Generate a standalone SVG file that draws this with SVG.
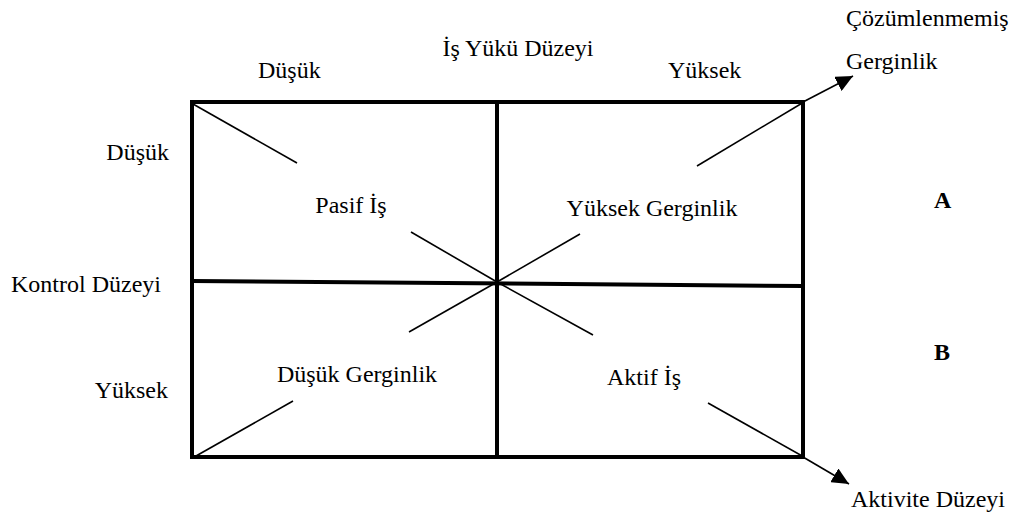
<svg xmlns="http://www.w3.org/2000/svg" width="1021" height="518" viewBox="0 0 1021 518" font-family="Liberation Serif, serif">
<defs>
<marker id="ah" markerUnits="userSpaceOnUse" markerWidth="18" markerHeight="16" refX="17" refY="8" orient="auto">
<path d="M0,0 L17,8 L0,16 Z" fill="#000"/>
</marker>
</defs>
<rect width="1021" height="518" fill="#fff"/>
<g id="grid" fill="none" stroke="#000" stroke-width="4">
<rect x="192" y="102" width="611" height="355"/>
<line x1="497" y1="102" x2="497" y2="457"/>
<line x1="192" y1="281" x2="803" y2="286"/>
</g>
<g id="connectors" stroke="#000" stroke-width="1.6" fill="none">
<line x1="193" y1="104" x2="297" y2="163"/>
<line x1="411" y1="232" x2="497" y2="282"/>
<line x1="497" y1="282" x2="580" y2="234"/>
<line x1="697" y1="166" x2="804" y2="102"/>
<line x1="803" y1="102" x2="853" y2="76" marker-end="url(#ah)"/>
<line x1="497" y1="282" x2="409" y2="332"/>
<line x1="293" y1="401" x2="196" y2="456"/>
<line x1="497" y1="282" x2="593" y2="335"/>
<line x1="708" y1="403" x2="804" y2="457"/>
<line x1="803" y1="457" x2="849" y2="484" marker-end="url(#ah)"/>
</g>
<g id="pasif-is"><text font-family="Liberation Serif, serif" font-size="24" x="351" y="213" text-anchor="middle">Pasif İş</text></g>
<g id="yuksek-gerginlik"><text font-family="Liberation Serif, serif" font-size="24" x="652" y="216" text-anchor="middle">Yüksek Gerginlik</text></g>
<g id="dusuk-gerginlik"><text font-family="Liberation Serif, serif" font-size="24" x="357" y="382" text-anchor="middle">Düşük Gerginlik</text></g>
<g id="aktif-is"><text font-family="Liberation Serif, serif" font-size="24" x="644" y="385" text-anchor="middle">Aktif İş</text></g>
<g id="labels">
<text font-family="Liberation Serif, serif" font-size="24" x="518" y="56" text-anchor="middle">İş Yükü Düzeyi</text>
<text font-family="Liberation Serif, serif" font-size="24" x="258" y="78">Düşük</text>
<text font-family="Liberation Serif, serif" font-size="24" x="668" y="78">Yüksek</text>
<text font-family="Liberation Serif, serif" font-size="24" x="846" y="26">Çözümlenmemiş</text>
<text font-family="Liberation Serif, serif" font-size="24" x="846" y="69">Gerginlik</text>
<text font-family="Liberation Serif, serif" font-size="24" x="169" y="160" text-anchor="end">Düşük</text>
<text font-family="Liberation Serif, serif" font-size="24" x="11" y="292">Kontrol Düzeyi</text>
<text font-family="Liberation Serif, serif" font-size="24" x="168" y="398" text-anchor="end">Yüksek</text>
<text font-family="Liberation Serif, serif" font-size="24" font-weight="bold" x="934" y="208">A</text>
<text font-family="Liberation Serif, serif" font-size="24" font-weight="bold" x="934" y="360">B</text>
<text font-family="Liberation Serif, serif" font-size="24" x="851" y="507">Aktivite Düzeyi</text>
</g>
</svg>
